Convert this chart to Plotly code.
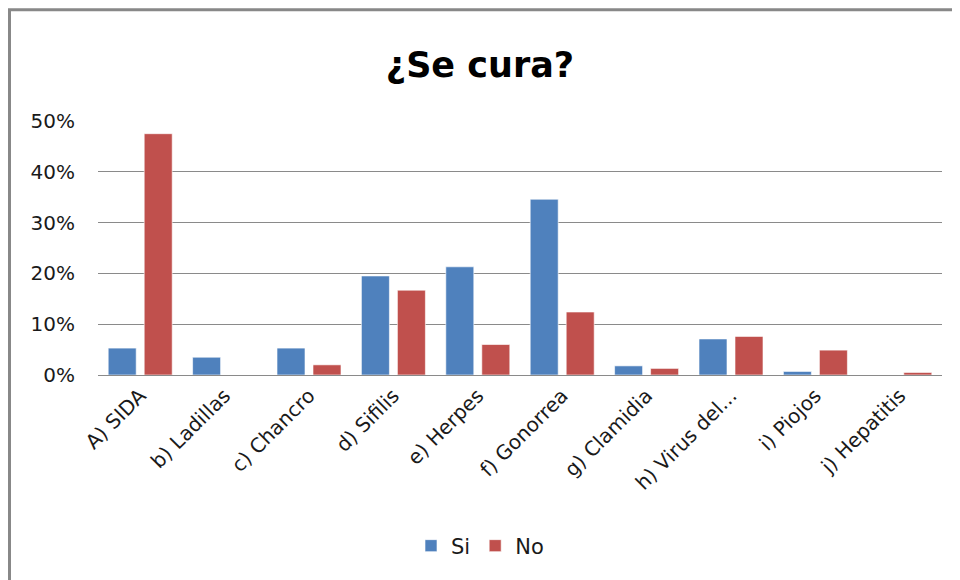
from plotly import graph_objects as go

categorias = ["A) SIDA", "b) Ladillas", "c) Chancro", "d) Sifilis", "e) Herpes",
              "f) Gonorrea", "g) Clamidia", "h) Virus del...", "i) Piojos", "j) Hepatitis"]
si = [0.053, 0.035, 0.053, 0.195, 0.213, 0.346, 0.018, 0.071, 0.007, 0.0]
no = [0.475, 0.0, 0.020, 0.167, 0.060, 0.124, 0.013, 0.076, 0.049, 0.005]

azul = "#4F81BD"
rojo = "#C0504D"
fuente = "DejaVu Sans, sans-serif"

# la pagina html tiene 8px de margen en el body, se compensa aqui
off = 8

fig = go.Figure(layout=go.Layout(width=960, height=580, paper_bgcolor="white", plot_bgcolor="white"))
fig.add_trace(go.Bar(x=categorias, y=si, name="Si",
                     marker=dict(color=azul, line=dict(color="rgba(255,255,255,0.6)", width=1))))
fig.add_trace(go.Bar(x=categorias, y=no, name="No",
                     marker=dict(color=rojo, line=dict(color="rgba(255,255,255,0.6)", width=1))))

fig.update_layout(
    barmode="group", bargap=0.147, bargroupgap=0.222,
    margin=dict(l=98 - off, r=18 + off, t=121 - off, b=205 + off),
    font=dict(family=fuente, color="#1a1a1a"),
    title=dict(text="<b>¿Se cura?</b>", x=0.5 - off / 960, xref="container", xanchor="center",
               y=1 - (65 - off) / 580, yref="container", yanchor="middle",
               font=dict(size=35, color="black", family=fuente)),
    legend=dict(orientation="h", x=0.5 - off / 960, xref="container", xanchor="center",
                y=1 - (546 - off) / 580, yref="container", yanchor="middle",
                font=dict(size=21), itemwidth=30),
    showlegend=True,
)
fig.update_xaxes(tickangle=-45, tickfont=dict(size=20), showgrid=False, showline=False, ticks="",
                 ticklabelstandoff=4)
fig.update_yaxes(range=[0, 0.5], dtick=0.1, tickformat=".0%", tickfont=dict(size=20),
                 showgrid=True, gridcolor="#8a8a8a", gridwidth=1,
                 zeroline=True, zerolinecolor="#8a8a8a", zerolinewidth=1,
                 ticks="", ticklabelstandoff=22)

# marco del grafico
fig.add_shape(type="rect", xref="paper", yref="paper",
              x0=(9.5 - 98) / 844, x1=1.2, y0=-1.0, y1=(375.5 - 9.5) / 254.5,
              line=dict(color="#888888", width=3), fillcolor="rgba(0,0,0,0)", layer="below")

fig.write_html("out.html")
